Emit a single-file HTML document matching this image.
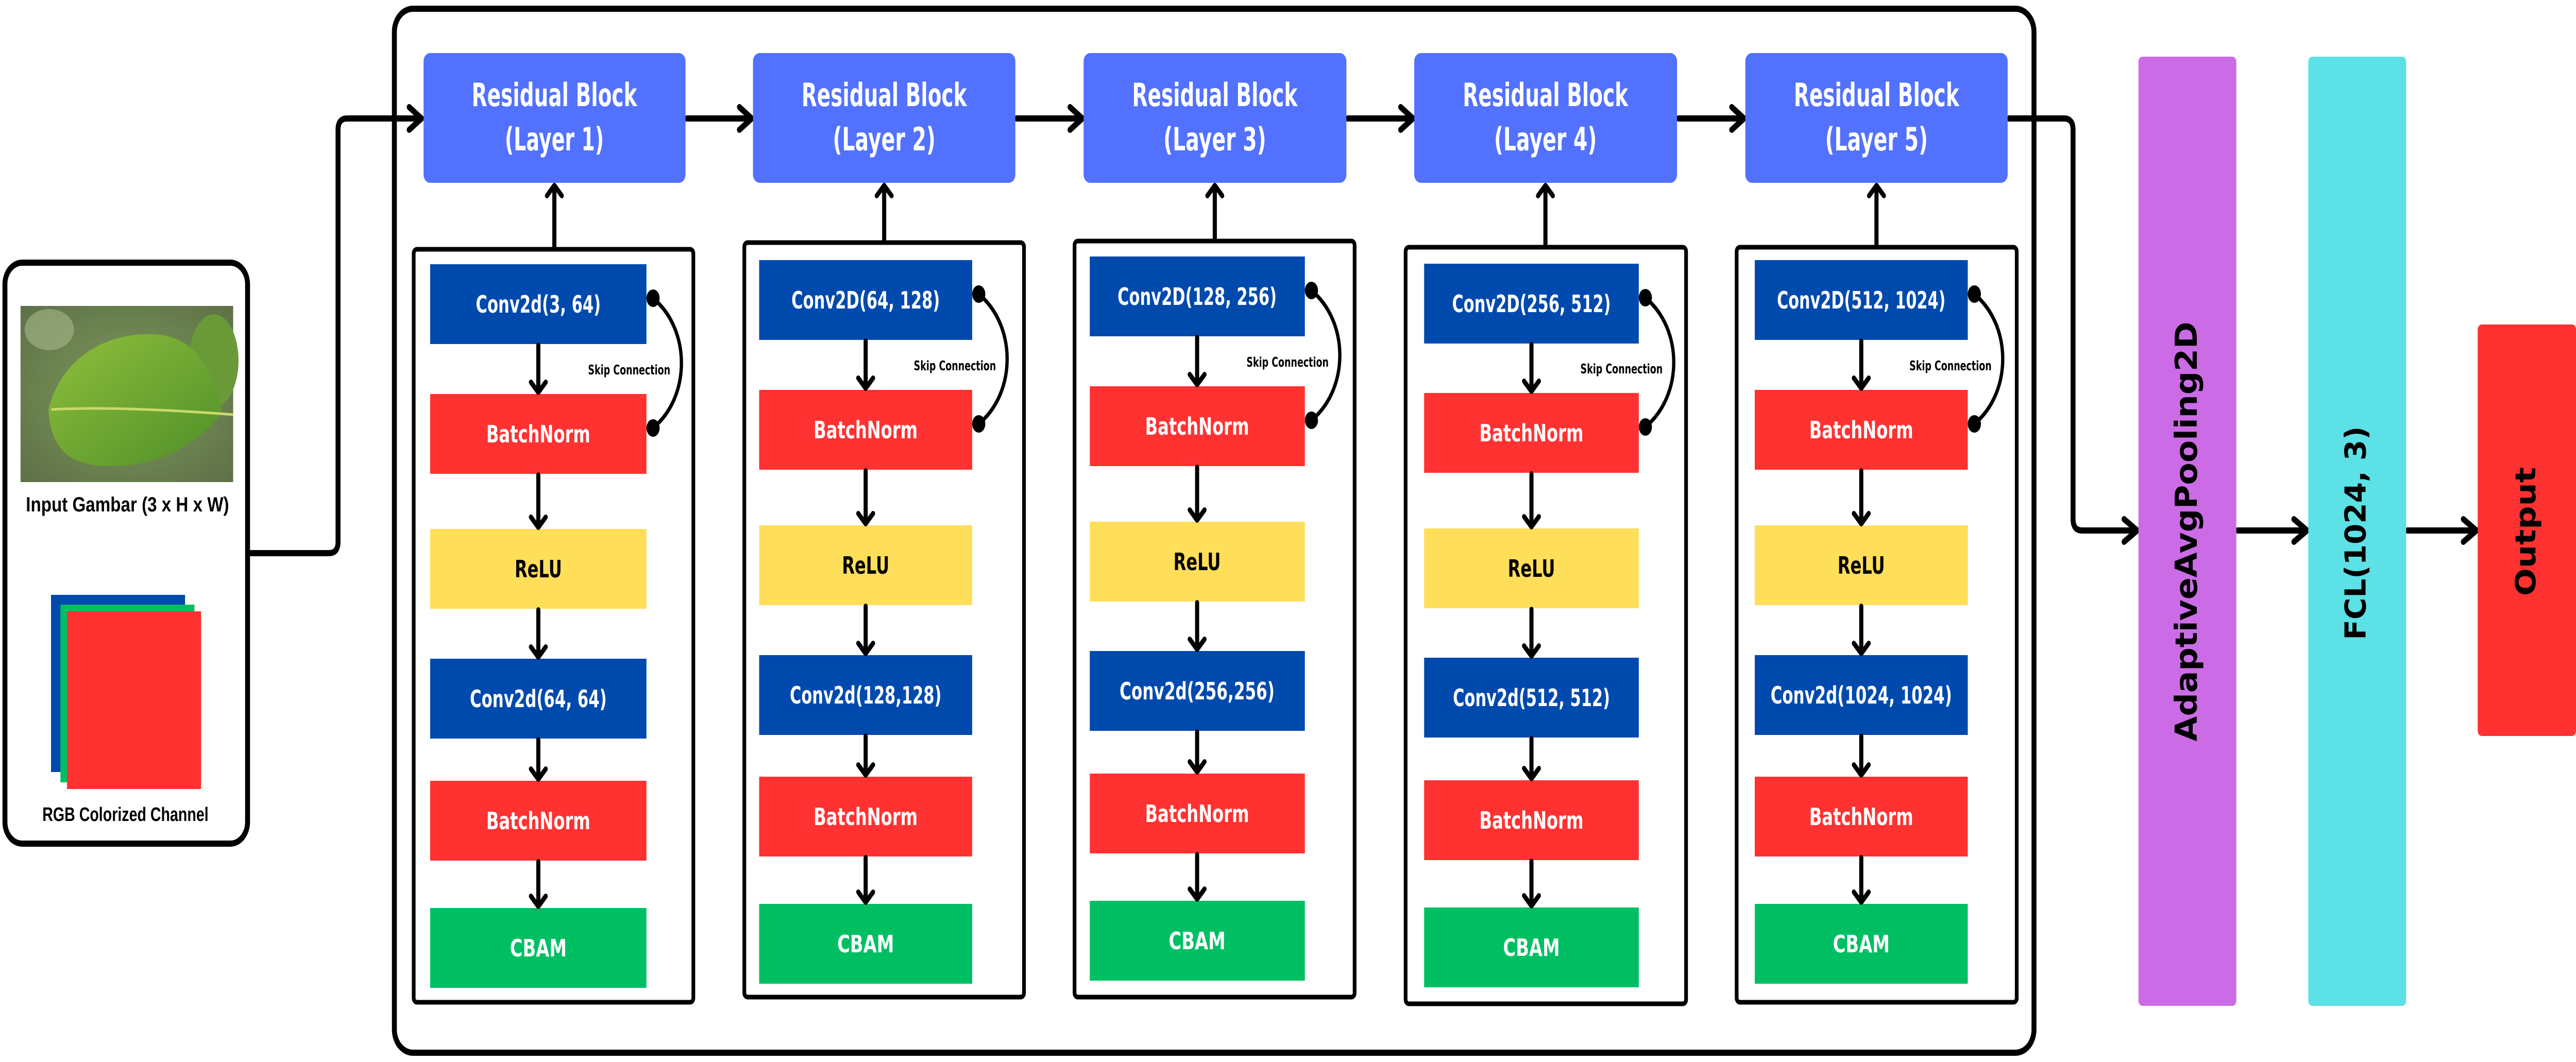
<!DOCTYPE html>
<html><head><meta charset="utf-8">
<style>
html,body{margin:0;padding:0;background:#fff;width:100vw;height:100vh;overflow:hidden;}
svg{display:block;position:absolute;left:0;top:0;width:100vw;height:100vh;}
.t{font-family:"DejaVu Sans","Liberation Sans",sans-serif;font-weight:bold;}
.lab{font-family:"Liberation Sans","DejaVu Sans",sans-serif;font-weight:bold;}
</style></head><body>
<svg viewBox="0 0 6264 2062" preserveAspectRatio="none" xmlns="http://www.w3.org/2000/svg">
<defs>
<radialGradient id="bg" cx="50%" cy="50%" r="70%"><stop offset="0" stop-color="#7d9a5a"/><stop offset="1" stop-color="#5e7048"/></radialGradient>
<linearGradient id="lf" x1="0" y1="0" x2="1" y2="1"><stop offset="0" stop-color="#8fbf3c"/><stop offset="1" stop-color="#4f8f28"/></linearGradient>
</defs>
<rect width="6264" height="2062" fill="#fff"/>

<rect x="12" y="510" width="590" height="1128" rx="42" fill="#fff" stroke="#000" stroke-width="12"/>
<rect x="50" y="594" width="517" height="342" fill="url(#bg)"/>
<ellipse cx="120" cy="640" rx="60" ry="40" fill="#a9b88a" opacity="0.6"/>
<ellipse cx="520" cy="700" rx="60" ry="90" fill="#6a9a38"/>
<path d="M118 795 C150 690 270 640 390 650 C480 660 520 720 540 800 C470 880 330 920 210 900 C150 890 120 850 118 795 Z" fill="url(#lf)"/>
<path d="M125 795 C250 790 400 795 567 805" stroke="#c9d96a" stroke-width="5" fill="none"/>
<text x="310" y="993" text-anchor="middle" class="lab" font-size="40" textLength="494" lengthAdjust="spacingAndGlyphs">Input Gambar (3 x H x W)</text>
<rect x="124" y="1155" width="326" height="344" fill="#004AAD"/>
<rect x="147" y="1174" width="326" height="345" fill="#00BF63"/>
<rect x="163" y="1187" width="326" height="345" fill="#FF3131"/>
<text x="305" y="1594" text-anchor="middle" class="lab" font-size="38" textLength="404" lengthAdjust="spacingAndGlyphs">RGB Colorized Channel</text>

<rect x="959" y="17" width="3987" height="2027" rx="45" fill="none" stroke="#000" stroke-width="12"/>

<g fill="none" stroke="#000" stroke-width="12" stroke-linecap="round" stroke-linejoin="round">
<path d="M608 1074 H800 Q822 1074 822 1052 V252 Q822 230 844 230 H1025"/>
<path d="M995 208 L1025 230 L995 252"/>
<path d="M1670 230 H1828 M1798 208 L1828 230 L1798 252"/>
<path d="M2472 230 H2632 M2602 208 L2632 230 L2602 252"/>
<path d="M3277 230 H3436 M3406 208 L3436 230 L3406 252"/>
<path d="M4081 230 H4241 M4211 208 L4241 230 L4211 252"/>
<path d="M4885 230 H5019 Q5041 230 5041 252 V1008 Q5041 1030 5063 1030 H5197 M5165 1008 L5197 1030 L5165 1052"/>
<path d="M5441 1030 H5610 M5578 1008 L5610 1030 L5578 1052"/>
<path d="M5854 1030 H6022 M5990 1008 L6022 1030 L5990 1052"/>
</g>

<rect x="5200" y="110" width="238" height="1843" rx="10" fill="#CB6CE6"/>
<rect x="5613" y="110" width="238" height="1843" rx="10" fill="#5CE1E6"/>
<rect x="6025" y="630" width="239" height="799" rx="10" fill="#FF3131"/>
<text transform="translate(5342,1032) rotate(-90)" text-anchor="middle" class="t" font-size="74" textLength="815" lengthAdjust="spacingAndGlyphs">AdaptiveAvgPooling2D</text>
<text transform="translate(5752,1035) rotate(-90)" text-anchor="middle" class="t" font-size="70" textLength="415" lengthAdjust="spacingAndGlyphs">FCL(1024, 3)</text>
<text transform="translate(6165,1032) rotate(-90)" text-anchor="middle" class="t" font-size="68" textLength="250" lengthAdjust="spacingAndGlyphs">Output</text>

<g fill="#5271FF">
<rect x="1030" y="103" width="637" height="252" rx="16"/>
<rect x="1831" y="103" width="638" height="252" rx="16"/>
<rect x="2635" y="103" width="639" height="252" rx="16"/>
<rect x="3439" y="103" width="639" height="252" rx="16"/>
<rect x="4244" y="103" width="638" height="252" rx="16"/>
</g>
<g class="t" fill="#fff" font-size="62" text-anchor="middle">
<text x="1348" y="206" textLength="402" lengthAdjust="spacingAndGlyphs">Residual Block</text>
<text x="1348" y="292" textLength="241" lengthAdjust="spacingAndGlyphs">(Layer 1)</text>
<text x="2150" y="206" textLength="402" lengthAdjust="spacingAndGlyphs">Residual Block</text>
<text x="2150" y="292" textLength="250" lengthAdjust="spacingAndGlyphs">(Layer 2)</text>
<text x="2954" y="206" textLength="402" lengthAdjust="spacingAndGlyphs">Residual Block</text>
<text x="2954" y="292" textLength="250" lengthAdjust="spacingAndGlyphs">(Layer 3)</text>
<text x="3758" y="206" textLength="402" lengthAdjust="spacingAndGlyphs">Residual Block</text>
<text x="3758" y="292" textLength="250" lengthAdjust="spacingAndGlyphs">(Layer 4)</text>
<text x="4563" y="206" textLength="402" lengthAdjust="spacingAndGlyphs">Residual Block</text>
<text x="4563" y="292" textLength="250" lengthAdjust="spacingAndGlyphs">(Layer 5)</text>
</g>

<g fill="none" stroke="#000" stroke-width="9">
<rect x="1006" y="484" width="680" height="1462" rx="8"/>
<rect x="1810" y="471" width="680" height="1465" rx="8"/>
<rect x="2613" y="468" width="681" height="1468" rx="8"/>
<rect x="3418" y="480" width="682" height="1469" rx="8"/>
<rect x="4223" y="480" width="681" height="1466" rx="8"/>
</g>

<g>
<rect x="1046" y="513" width="526" height="155" fill="#004AAD"/>
<rect x="1046" y="765" width="526" height="155" fill="#FF3131"/>
<rect x="1046" y="1027" width="526" height="155" fill="#FFDE59"/>
<rect x="1046" y="1279" width="526" height="155" fill="#004AAD"/>
<rect x="1046" y="1516" width="526" height="155" fill="#FF3131"/>
<rect x="1046" y="1763" width="526" height="155" fill="#00BF63"/>

<rect x="1846" y="505" width="518" height="155" fill="#004AAD"/>
<rect x="1846" y="757" width="518" height="155" fill="#FF3131"/>
<rect x="1846" y="1020" width="518" height="155" fill="#FFDE59"/>
<rect x="1846" y="1272" width="518" height="155" fill="#004AAD"/>
<rect x="1846" y="1508" width="518" height="155" fill="#FF3131"/>
<rect x="1846" y="1755" width="518" height="155" fill="#00BF63"/>

<rect x="2650" y="498" width="523" height="155" fill="#004AAD"/>
<rect x="2650" y="750" width="523" height="155" fill="#FF3131"/>
<rect x="2650" y="1013" width="523" height="155" fill="#FFDE59"/>
<rect x="2650" y="1264" width="523" height="155" fill="#004AAD"/>
<rect x="2650" y="1502" width="523" height="155" fill="#FF3131"/>
<rect x="2650" y="1749" width="523" height="155" fill="#00BF63"/>

<rect x="3463" y="512" width="522" height="155" fill="#004AAD"/>
<rect x="3463" y="763" width="522" height="155" fill="#FF3131"/>
<rect x="3463" y="1026" width="522" height="155" fill="#FFDE59"/>
<rect x="3463" y="1277" width="522" height="155" fill="#004AAD"/>
<rect x="3463" y="1515" width="522" height="155" fill="#FF3131"/>
<rect x="3463" y="1762" width="522" height="155" fill="#00BF63"/>

<rect x="4267" y="505" width="518" height="155" fill="#004AAD"/>
<rect x="4267" y="757" width="518" height="155" fill="#FF3131"/>
<rect x="4267" y="1020" width="518" height="155" fill="#FFDE59"/>
<rect x="4267" y="1272" width="518" height="155" fill="#004AAD"/>
<rect x="4267" y="1508" width="518" height="155" fill="#FF3131"/>
<rect x="4267" y="1755" width="518" height="155" fill="#00BF63"/>
</g>

<g class="t" font-size="46" text-anchor="middle" fill="#fff">
<text x="1309" y="607" textLength="304" lengthAdjust="spacingAndGlyphs">Conv2d(3, 64)</text>
<text x="1309" y="859" textLength="253" lengthAdjust="spacingAndGlyphs">BatchNorm</text>
<text x="1309" y="1121" fill="#000" textLength="115" lengthAdjust="spacingAndGlyphs">ReLU</text>
<text x="1309" y="1373" textLength="333" lengthAdjust="spacingAndGlyphs">Conv2d(64, 64)</text>
<text x="1309" y="1610" textLength="253" lengthAdjust="spacingAndGlyphs">BatchNorm</text>
<text x="1309" y="1857" textLength="138" lengthAdjust="spacingAndGlyphs">CBAM</text>

<text x="2105" y="599" textLength="361" lengthAdjust="spacingAndGlyphs">Conv2D(64, 128)</text>
<text x="2105" y="851" textLength="253" lengthAdjust="spacingAndGlyphs">BatchNorm</text>
<text x="2105" y="1114" fill="#000" textLength="115" lengthAdjust="spacingAndGlyphs">ReLU</text>
<text x="2105" y="1366" textLength="369" lengthAdjust="spacingAndGlyphs">Conv2d(128,128)</text>
<text x="2105" y="1602" textLength="253" lengthAdjust="spacingAndGlyphs">BatchNorm</text>
<text x="2105" y="1849" textLength="138" lengthAdjust="spacingAndGlyphs">CBAM</text>

<text x="2911" y="592" textLength="387" lengthAdjust="spacingAndGlyphs">Conv2D(128, 256)</text>
<text x="2911" y="844" textLength="253" lengthAdjust="spacingAndGlyphs">BatchNorm</text>
<text x="2911" y="1107" fill="#000" textLength="115" lengthAdjust="spacingAndGlyphs">ReLU</text>
<text x="2911" y="1358" textLength="377" lengthAdjust="spacingAndGlyphs">Conv2d(256,256)</text>
<text x="2911" y="1596" textLength="253" lengthAdjust="spacingAndGlyphs">BatchNorm</text>
<text x="2911" y="1843" textLength="138" lengthAdjust="spacingAndGlyphs">CBAM</text>

<text x="3724" y="606" textLength="386" lengthAdjust="spacingAndGlyphs">Conv2D(256, 512)</text>
<text x="3724" y="857" textLength="253" lengthAdjust="spacingAndGlyphs">BatchNorm</text>
<text x="3724" y="1120" fill="#000" textLength="115" lengthAdjust="spacingAndGlyphs">ReLU</text>
<text x="3724" y="1371" textLength="382" lengthAdjust="spacingAndGlyphs">Conv2d(512,  512)</text>
<text x="3724" y="1609" textLength="253" lengthAdjust="spacingAndGlyphs">BatchNorm</text>
<text x="3724" y="1856" textLength="138" lengthAdjust="spacingAndGlyphs">CBAM</text>

<text x="4526" y="599" textLength="410" lengthAdjust="spacingAndGlyphs">Conv2D(512, 1024)</text>
<text x="4526" y="851" textLength="253" lengthAdjust="spacingAndGlyphs">BatchNorm</text>
<text x="4526" y="1114" fill="#000" textLength="115" lengthAdjust="spacingAndGlyphs">ReLU</text>
<text x="4526" y="1366" textLength="441" lengthAdjust="spacingAndGlyphs">Conv2d(1024, 1024)</text>
<text x="4526" y="1602" textLength="253" lengthAdjust="spacingAndGlyphs">BatchNorm</text>
<text x="4526" y="1849" textLength="138" lengthAdjust="spacingAndGlyphs">CBAM</text>
</g>

<g fill="none" stroke="#000" stroke-width="10" stroke-linecap="round" stroke-linejoin="round">
<path d="M1348 480 V362 M1330 380 L1348 360 L1366 380"/>
<path d="M2150 467 V362 M2132 380 L2150 360 L2168 380"/>
<path d="M2954 464 V362 M2936 380 L2954 360 L2972 380"/>
<path d="M3758 476 V362 M3740 380 L3758 360 L3776 380"/>
<path d="M4563 476 V362 M4545 380 L4563 360 L4581 380"/>

<path d="M1309 670 V762 M1291 742 L1309 762 L1327 742 M1309 922 V1024 M1291 1004 L1309 1024 L1327 1004 M1309 1184 V1276 M1291 1256 L1309 1276 L1327 1256 M1309 1436 V1513 M1291 1493 L1309 1513 L1327 1493 M1309 1673 V1760 M1291 1740 L1309 1760 L1327 1740"/>
<path d="M2105 662 V754 M2087 734 L2105 754 L2123 734 M2105 914 V1017 M2087 997 L2105 1017 L2123 997 M2105 1177 V1269 M2087 1249 L2105 1269 L2123 1249 M2105 1429 V1505 M2087 1485 L2105 1505 L2123 1485 M2105 1665 V1752 M2087 1732 L2105 1752 L2123 1732"/>
<path d="M2911 655 V747 M2893 727 L2911 747 L2929 727 M2911 907 V1010 M2893 990 L2911 1010 L2929 990 M2911 1170 V1261 M2893 1241 L2911 1261 L2929 1241 M2911 1421 V1499 M2893 1479 L2911 1499 L2929 1479 M2911 1659 V1746 M2893 1726 L2911 1746 L2929 1726"/>
<path d="M3724 669 V760 M3706 740 L3724 760 L3742 740 M3724 920 V1023 M3706 1003 L3724 1023 L3742 1003 M3724 1183 V1274 M3706 1254 L3724 1274 L3742 1254 M3724 1434 V1512 M3706 1492 L3724 1512 L3742 1492 M3724 1672 V1759 M3706 1739 L3724 1759 L3742 1739"/>
<path d="M4526 662 V754 M4508 734 L4526 754 L4544 734 M4526 914 V1017 M4508 997 L4526 1017 L4544 997 M4526 1177 V1269 M4508 1249 L4526 1269 L4544 1249 M4526 1429 V1505 M4508 1485 L4526 1505 L4544 1485 M4526 1665 V1752 M4508 1732 L4526 1752 L4544 1732"/>
</g>

<g fill="none" stroke="#000" stroke-width="8">
<path d="M1588 579 C1680 640 1680 770 1588 831"/>
<path d="M2380 571 C2472 632 2472 762 2380 823"/>
<path d="M3189 564 C3281 625 3281 755 3189 816"/>
<path d="M4001 578 C4093 639 4093 768 4001 829"/>
<path d="M4801 571 C4893 632 4893 762 4801 823"/>
</g>
<g fill="#000">
<ellipse cx="1588" cy="579" rx="16" ry="17"/><ellipse cx="1588" cy="831" rx="16" ry="17"/>
<ellipse cx="2380" cy="571" rx="16" ry="17"/><ellipse cx="2380" cy="823" rx="16" ry="17"/>
<ellipse cx="3189" cy="564" rx="16" ry="17"/><ellipse cx="3189" cy="816" rx="16" ry="17"/>
<ellipse cx="4001" cy="578" rx="16" ry="17"/><ellipse cx="4001" cy="829" rx="16" ry="17"/>
<ellipse cx="4801" cy="571" rx="16" ry="17"/><ellipse cx="4801" cy="823" rx="16" ry="17"/>
</g>
<g class="t" font-size="26" text-anchor="end" fill="#000">
<text x="1630" y="727" textLength="200" lengthAdjust="spacingAndGlyphs">Skip Connection</text>
<text x="2422" y="719" textLength="200" lengthAdjust="spacingAndGlyphs">Skip Connection</text>
<text x="3231" y="712" textLength="200" lengthAdjust="spacingAndGlyphs">Skip Connection</text>
<text x="4043" y="725" textLength="200" lengthAdjust="spacingAndGlyphs">Skip Connection</text>
<text x="4843" y="719" textLength="200" lengthAdjust="spacingAndGlyphs">Skip Connection</text>
</g>
</svg>
</body></html>
